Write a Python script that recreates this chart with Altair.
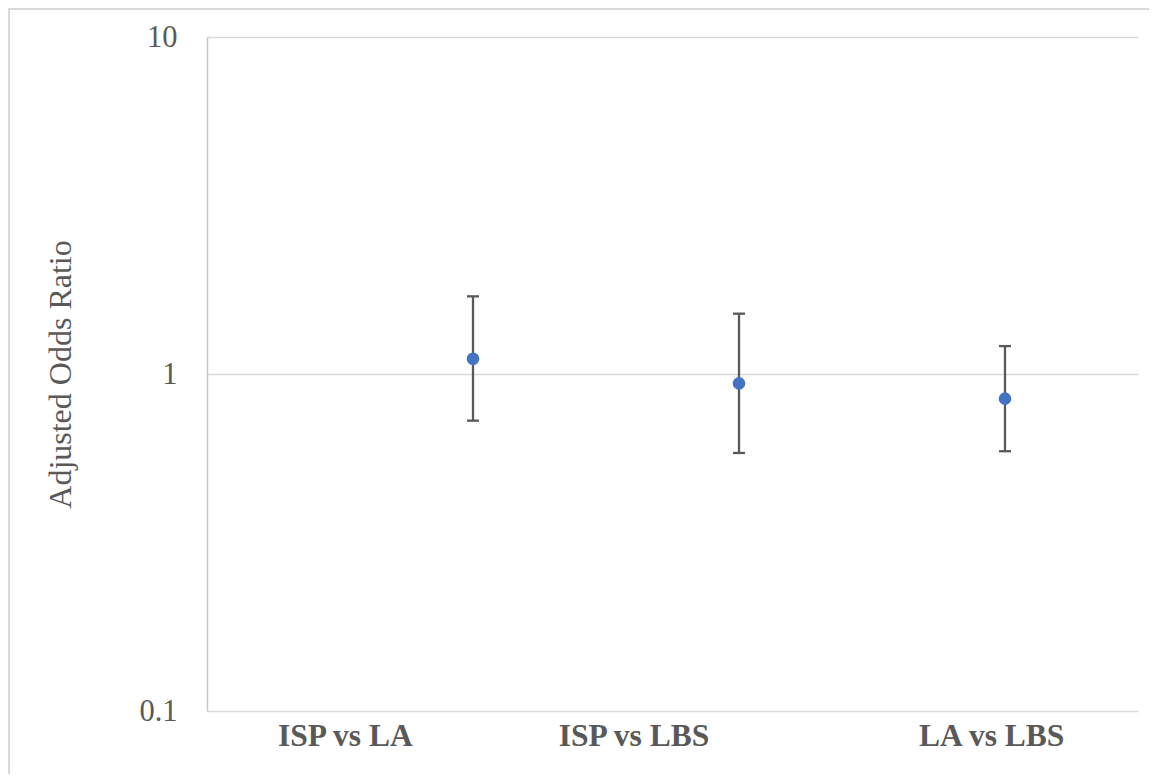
import altair as alt
import pandas as pd

# Data
comparisons = ["ISP vs LA", "ISP vs LBS", "LA vs LBS"]
x_index = [1, 2, 3]
odds_ratio = [1.11, 0.938, 0.845]
ci_lower = [0.727, 0.583, 0.590]
ci_upper = [1.70, 1.51, 1.21]
label_x = [0.52, 1.605, 2.95]
y_ticks = [0.1, 1, 10]

df = pd.DataFrame({
    "cmp": comparisons,
    "x": x_index,
    "or": odds_ratio,
    "lo": ci_lower,
    "hi": ci_upper,
    "lx": label_x,
})

W, H = 931, 674
GREY = "#595959"
FONT = "Liberation Serif"

xs = alt.Scale(domain=[0, 3.5], nice=False, zero=False)
ys = alt.Scale(type="log", domain=[0.1, 10], nice=False)

base = alt.Chart(df)

border = alt.Chart(pd.DataFrame({"k": [0]})).mark_rect(
    fillOpacity=0, stroke="#d9d9d9", strokeWidth=2
).encode(
    x=alt.value(-198), x2=alt.value(1000), y=alt.value(-28), y2=alt.value(900)
)

bars = base.mark_rule(color=GREY, strokeWidth=2.3).encode(
    x=alt.X("x:Q", scale=xs, axis=None),
    y=alt.Y(
        "lo:Q",
        scale=ys,
        title="Adjusted Odds Ratio",
        axis=alt.Axis(values=y_ticks, format="~g", grid=True),
    ),
    y2="hi:Q",
)

caps_hi = base.mark_tick(orient="horizontal", size=12, thickness=2.3, color=GREY, opacity=1).encode(
    x="x:Q", y="hi:Q"
)
caps_lo = base.mark_tick(orient="horizontal", size=12, thickness=2.3, color=GREY, opacity=1).encode(
    x="x:Q", y="lo:Q"
)

points = base.mark_circle(size=160, color="#4472c4", opacity=1).encode(
    x="x:Q", y="or:Q"
)

labels = base.mark_text(
    font=FONT, fontSize=31.5, fontWeight="bold", color=GREY, baseline="alphabetic", align="center"
).encode(
    x="lx:Q", y=alt.value(H + 35), text="cmp:N"
)

chart = alt.layer(border, bars, caps_hi, caps_lo, points, labels).properties(
    width=W,
    height=H,
    autosize=alt.AutoSizeParams(type="none"),
    padding={"left": 199, "top": 29, "right": 11, "bottom": 63},
).configure_view(stroke=None).configure_axis(
    labelFont=FONT,
    labelFontSize=30.5,
    labelColor=GREY,
    labelPadding=30,
    ticks=False,
    domainColor="#c6c6c6",
    domainWidth=1.5,
    gridColor="#d9d9d9",
    gridWidth=1.5,
    titleFont=FONT,
    titleFontSize=32,
    titleFontWeight="normal",
    titleColor=GREY,
    titleX=-147,
    titleY=H / 2,
    titleAngle=270,
    titleAlign="center",
    titleBaseline="middle",
)

chart.save("out.html", embed_options={"renderer": "svg", "actions": False})
